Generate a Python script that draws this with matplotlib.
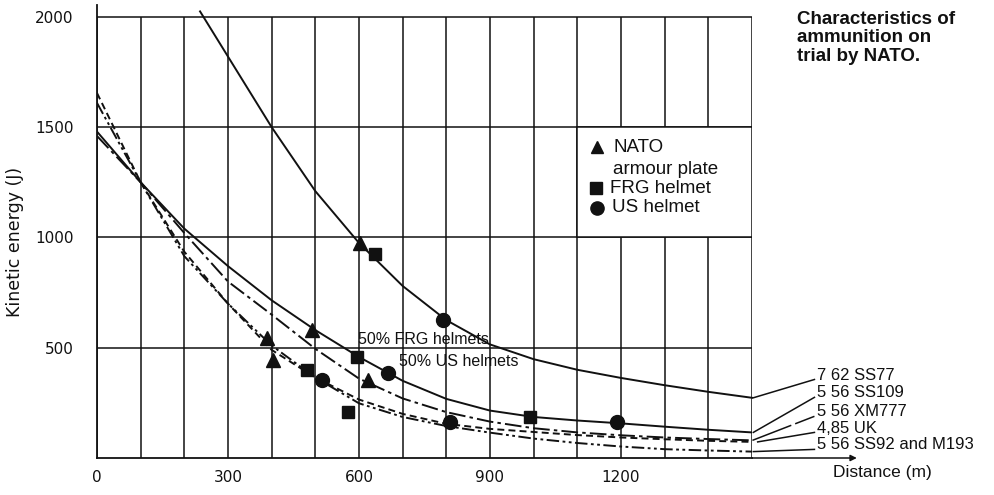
import matplotlib
matplotlib.use("Agg")
import matplotlib.pyplot as plt
from matplotlib.patches import Rectangle

plt.rcParams["lines.scale_dashes"] = False

# ---------------- data ----------------
dist = [0, 100, 200, 300, 400, 500, 600, 700, 800, 900, 1000, 1100, 1200, 1300, 1400, 1500]

ss77_x = [236, 300, 400, 500, 600, 700, 800, 900, 1000, 1100, 1200, 1300, 1400, 1500]
ss77_e = [2025, 1820, 1500, 1210, 975, 780, 625, 515, 448, 400, 363, 330, 300, 273]

ss109_e = [1480, 1250, 1040, 870, 715, 580, 458, 350, 268, 215, 186, 170, 157, 142, 128, 116]
xm777_e = [1460, 1250, 1020, 800, 650, 495, 360, 270, 208, 165, 135, 116, 103, 93, 86, 80]
uk_e = [1655, 1250, 935, 700, 490, 365, 265, 200, 155, 132, 118, 104, 93, 85, 78, 73]
ss92_e = [1610, 1250, 915, 700, 510, 365, 248, 186, 145, 115, 88, 68, 52, 40, 34, 29]

series_names = ["7 62 SS77", "5 56 SS109", "5 56 XM777", "4,85 UK", "5 56 SS92 and M193"]
label_e = [376, 295, 209, 136, 59]

# target points
tri_x = [390, 403, 492, 602, 621]
tri_e = [545, 445, 580, 975, 355]
sq_x = [480, 575, 595, 637, 991]
sq_e = [400, 210, 458, 925, 187]
circ_x = [515, 667, 793, 808, 1191]
circ_e = [355, 385, 627, 163, 163]

xticks = [0, 300, 600, 900, 1200]
yticks = [500, 1000, 1500, 2000]
vgrid = list(range(0, 1600, 100))

# ---------------- figure ----------------
fig = plt.figure(figsize=(9.95, 4.95), dpi=100)
ax = fig.add_axes([97 / 995, 37 / 495, 655 / 995, 453 / 495])
ax.set_xlim(0, 1500)
ax.set_ylim(0, 2054)

K = "#111111"
glw = 1.1
ax.vlines(vgrid, 0, 2000, color=K, lw=glw, zorder=1)
ax.hlines(yticks, 0, 1500, color=K, lw=glw, zorder=1)

for s in ["top", "right"]:
    ax.spines[s].set_visible(False)
ax.spines["left"].set_linewidth(1.3)
ax.spines["bottom"].set_linewidth(1.3)
ax.spines["left"].set_color(K)
ax.spines["bottom"].set_color(K)

# legend box (white area)
ax.add_patch(Rectangle((1100, 1000), 400, 500, fc="white", ec=K, lw=glw, zorder=1.5))

clw = 1.4
ax.plot(ss77_x, ss77_e, color=K, lw=clw, zorder=3, clip_on=False)
ax.plot(dist, ss109_e, color=K, lw=clw, zorder=3)
ax.plot(dist, xm777_e, color=K, lw=clw, zorder=3, dashes=(12, 3, 2.5, 3))
ax.plot(dist, uk_e, color=K, lw=clw, zorder=3, dashes=(5, 3))
ax.plot(dist, ss92_e, color=K, lw=clw, zorder=3, dashes=(9, 2.5, 2, 2.5, 2, 2.5))

ms = 9.5
ax.plot(tri_x, tri_e, "^", color=K, ms=ms, zorder=5, ls="none")
ax.plot(sq_x, sq_e, "s", color=K, ms=ms - 0.5, zorder=5, ls="none")
ax.plot(circ_x, circ_e, "o", color=K, ms=ms + 0.5, zorder=5, ls="none")

# legend inside box
lf = dict(family="Liberation Sans", fontsize=13.5, color=K, va="center", ha="left", zorder=6)
ax.plot([1145], [1410], "^", color=K, ms=9, zorder=6)
ax.plot([1142], [1224], "s", color=K, ms=8.5, zorder=6)
ax.plot([1145], [1134], "o", color=K, ms=9.5, zorder=6)
ax.text(1182, 1410, "NATO", **lf)
ax.text(1182, 1310, "armour plate", **lf)
ax.text(1175, 1224, "FRG helmet", **lf)
ax.text(1180, 1134, "US helmet", **lf)

# helmet annotations
af = dict(family="Liberation Sans", fontsize=11.5, color=K, ha="left", va="center", zorder=6)
ax.text(598, 537, "50% FRG helmets", **af)
ax.text(692, 437, "50% US helmets", **af)

# ticks
ax.set_xticks(xticks)
ax.set_xticklabels([str(v) for v in xticks])
ax.set_yticks(yticks)
ax.set_yticklabels([str(v) for v in yticks])
ax.tick_params(axis="both", length=0, labelsize=11, colors=K)
ax.tick_params(axis="x", pad=9)
ax.tick_params(axis="y", pad=17)

# x axis arrow extension
ax.annotate("", xy=(1740, 0), xytext=(1500, 0),
            arrowprops=dict(arrowstyle="-|>", lw=1.1, color=K, mutation_scale=9,
                            shrinkA=0, shrinkB=0),
            annotation_clip=False)

# series labels with leader lines
ends = [ss77_e[-1], ss109_e[-1], xm777_e[-1], uk_e[-1], ss92_e[-1]]
starts_x = [1503, 1503, 1501, 1513, 1503]
lab_font = dict(family="Liberation Sans", fontsize=12, color=K, ha="left", va="center")
for i, (name, ly, ey, sx) in enumerate(zip(series_names, label_e, ends, starts_x)):
    kw = dict(color=K, lw=1.1, clip_on=False)
    if i == 2:
        kw["dashes"] = (30, 3)
    ax.plot([sx, 1643], [ey, ly - 20], **kw)
    ax.text(1648, ly, name, clip_on=False, **lab_font)

# axis labels
fig.text(15 / 995, 1 - 242 / 495, "Kinetic energy (J)", rotation=90, ha="center", va="center",
         family="DejaVu Sans", fontsize=12.5, color=K)
fig.text(882 / 995, 1 - 472 / 495, "Distance (m)", ha="center", va="center",
         family="Liberation Sans", fontsize=12.5, color=K)

# title
tf = dict(family="Liberation Sans", fontsize=13.5, fontweight="bold", color=K, ha="left", va="center")
for j, line in enumerate(["Characteristics of", "ammunition on", "trial by NATO."]):
    fig.text(797 / 995, 1 - (19 + 18.5 * j) / 495, line, **tf)

fig.savefig("out.png", dpi=100, facecolor="white")
